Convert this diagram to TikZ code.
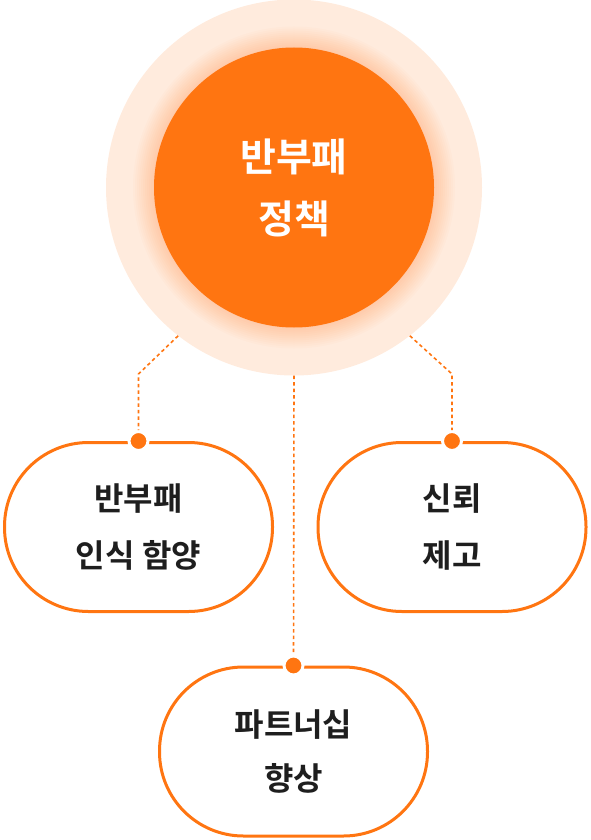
\documentclass[tikz,border=0pt]{standalone}
\usepackage{fontspec}
\setmainfont{Noto Sans CJK KR}[BoldFont={Noto Sans CJK KR Bold}]
\definecolor{org}{HTML}{FF7511}
\definecolor{pale}{HTML}{FFEBDD}
\definecolor{ink}{HTML}{1E1E1E}
\begin{document}
\begin{tikzpicture}[x=1pt,y=-1pt,
  pill/.style={draw=org, line width=3pt, fill=white, rounded corners=84pt,
    minimum width=268pt, minimum height=169pt, align=center, inner sep=0pt,
    text=ink, font=\fontsize{32}{57}\selectfont\bfseries},
  dotnode/.style={circle, fill=org, draw=white, line width=3pt, minimum size=19pt, inner sep=0pt},
  conn/.style={draw=org, line width=1.6pt, dash pattern=on 3.5pt off 3pt}]
\useasboundingbox (0,0) rectangle (590,840);
% central circle
\node[circle, fill=pale, minimum size=376pt, inner sep=0pt] (C) at (294,187.5) {};
\foreach \r in {161,159,...,141} \fill[org, opacity=0.022] (294,187.5) circle (\r pt);
\node[circle, fill=org, minimum size=280pt, inner sep=0pt, text=white, align=center,
  font=\fontsize{39}{62}\selectfont\bfseries] (I) at (294,187.5) {반부패\\정책};
% pills
\node[pill] (L) at (138.5,527) {반부패\\인식 함양};
\node[pill] (R) at (452,527) {신뢰\\제고};
\node[pill, font=\fontsize{32}{54}\selectfont\bfseries] (B) at (293.5,751.5) {파트너십\\향상};
% dots
\node[dotnode] (Ld) at (L.north) {};
\node[dotnode] (Rd) at (R.north) {};
\node[dotnode] (Bd) at (B.north) {};
% connectors
\coordinate (lb) at (138.5,374);
\coordinate (rb) at (452,374);
\draw[conn] (C.232) -- (lb) -- (Ld);
\draw[conn] (C.308) -- (rb) -- (Rd);
\draw[conn] (C.south) -- (Bd);
\end{tikzpicture}
\end{document}
